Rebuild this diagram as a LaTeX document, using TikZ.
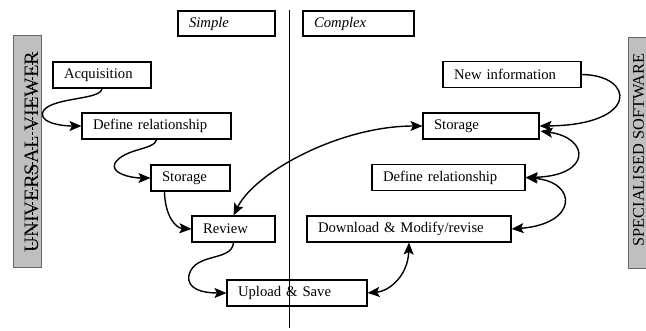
\documentclass[tikz,border=0pt]{standalone}
\usepackage{fontspec}
\setmainfont{Liberation Serif}
\usetikzlibrary{arrows.meta,calc}
\begin{document}
\begin{tikzpicture}[x=1pt,y=-1pt,
  box/.style={draw, line width=1.1pt, minimum height=26pt, inner xsep=11pt, inner ysep=0pt,
    align=left, font=\fontsize{14.7}{16}\selectfont},
  conn/.style={line width=1.4pt, -{Stealth[length=12pt,width=10pt,inset=2.5pt]}},
  dconn/.style={line width=1.4pt, {Stealth[length=12pt,width=10pt,inset=2.5pt]}-{Stealth[length=12pt,width=10pt,inset=2.5pt]}},
  bar/.style={draw=black!60, fill=black!25, line width=0.9pt, inner sep=0pt},
]
\useasboundingbox (0,0) rectangle (646,330);
\clip (0,0) rectangle (646,330);

% side bars
\node[bar, minimum width=28pt, minimum height=232pt] (lbar) at (27,151) {};
\node[rotate=90, inner sep=0pt, font=\fontsize{20.5}{21}\selectfont] (ltext) at (31.5,152) {UNIVERSAL VIEWER};
\draw[line width=0.6pt, dash pattern=on 3pt off 2pt] (32.5,52) -- (32.5,252);
\node[bar, minimum width=26pt, minimum height=231pt] (rbar) at (641,152.5) {};
\node[rotate=90, inner sep=0pt, font=\fontsize{16.3}{17}\selectfont] (rtext) at (638.5,150) {SPECIALISED SOFTWARE};

% divider
\coordinate (vtop) at (289,10);
\coordinate (vbot) at (289,328);
\draw[line width=0.9pt] (vtop) -- (vbot);

% headers
\node[box, minimum height=25pt, text width=75pt, font=\fontsize{14.7}{16}\selectfont\itshape] (simple) at (226.5,23.5) {Simple};
\node[box, minimum height=25pt, text width=89pt, font=\fontsize{14.7}{16}\selectfont\itshape] (complex) at (358.5,23.5) {Complex};

% left column
\node[box, text width=76pt] (acq) at (102,75) {Acquisition};
\node[box, text width=127pt] (defL) at (156.5,126) {Define relationship};
\node[box, text width=57pt] (stoL) at (190.5,178) {Storage};
\node[box, text width=61pt] (rev) at (233.5,229) {Review};
\node[box, text width=118pt] (up) at (297,293) {Upload \& Save};

% right column
\node[box, text width=116pt] (newinf) at (512,74.5) {New information};
\node[box, text width=94pt] (stoR) at (481,126) {Storage};
\node[box, text width=131pt] (defR) at (448.5,177.5) {Define relationship};
\node[box, text width=182pt] (down) at (409,229) {Download \& Modify/revise};

% left connectors
\draw[conn] (acq.south) .. controls (101,100) and (55,97) .. (44,110)
  .. controls (36,122) and (60,126) .. (defL.west);
\draw[conn] (defL.south) .. controls (155,150) and (125,148) .. (115,163)
  .. controls (110,173) and (130,178) .. (stoL.west);
\draw[conn] ($(stoL.south west)+(14,0)$) .. controls (165,215) and (175,228) .. (rev.west);
\draw[conn] (rev.south) .. controls (232,262) and (195,252) .. (189,275)
  .. controls (186,290) and (205,293) .. (up.west);

% cross connector
\draw[dconn] (rev.north) .. controls (255,172) and (340,126) .. (stoR.west);

% right connectors
\draw[conn] (newinf.east) .. controls (635,75) and (640,125) .. (stoR.east);
\draw[dconn] ($(stoR.east)+(1,5)$) .. controls (590,138) and (592,176) .. (defR.east);
\draw[dconn] (defR.east) .. controls (578,182) and (578,224) .. (down.east);
\draw[dconn] (down.south) .. controls (408,275) and (390,291) .. (up.east);
\end{tikzpicture}
\end{document}
